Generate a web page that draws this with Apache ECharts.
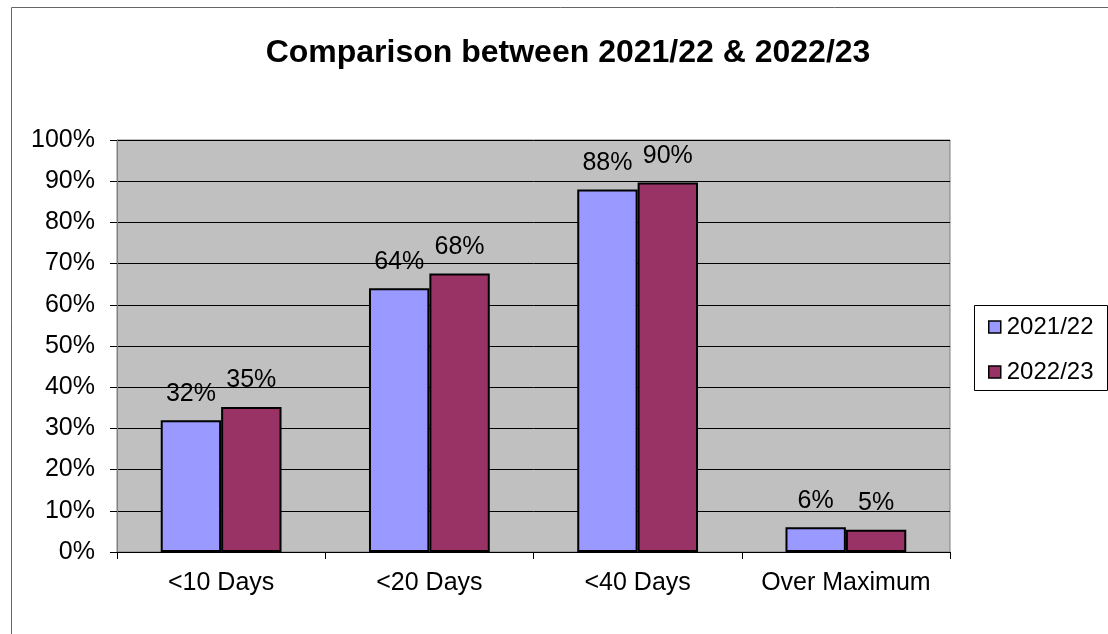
<!DOCTYPE html>
<html>
<head>
<meta charset="utf-8">
<script src="https://cdn.jsdelivr.net/npm/echarts@6/dist/echarts.min.js"></script>
<style>
  html, body { margin: 0; padding: 0; background: #fff; }
  #chart { width: 1108px; height: 634px; }
</style>
</head>
<body>
<div id="chart"></div>
<script>
const categories = ['<10 Days', '<20 Days', '<40 Days', 'Over Maximum']
const seriesNames = ['2021/22', '2022/23']
const values2122 = [32, 64, 88, 6]
const values2223 = [35.2, 67.6, 89.7, 5.4]
const yTicks = [0, 10, 20, 30, 40, 50, 60, 70, 80, 90, 100]

const font = "'Liberation Sans', Arial, sans-serif"
const chart = echarts.init(document.getElementById('chart'))

const barLabel = {
  show: true,
  position: 'top',
  distance: 14,
  fontFamily: font,
  fontSize: 25,
  color: '#000',
  formatter: p => Math.round(p.value) + '%'
}

const option = {
  backgroundColor: '#fff',
  animation: false,
  title: {
    text: 'Comparison between 2021/22 & 2022/23',
    left: 568,
    textAlign: 'center',
    top: 37,
    padding: 0,
    textStyle: { fontFamily: font, fontSize: 32, fontWeight: 'bold', color: '#000' }
  },
  legend: {
    orient: 'vertical',
    left: 988,
    top: 315,
    padding: 0,
    icon: 'rect',
    itemWidth: 12,
    itemHeight: 12,
    itemGap: 21,
    data: seriesNames,
    itemStyle: { borderColor: '#000', borderWidth: 1.5 },
    textStyle: { fontFamily: font, fontSize: 24, lineHeight: 24, color: '#000', padding: [0, 0, 0, 1] }
  },
  graphic: [
    {
      type: 'rect',
      shape: { x: 11.5, y: 7.5, width: 1200, height: 700 },
      style: { fill: 'none', stroke: '#666', lineWidth: 1 },
      silent: true
    },
    {
      type: 'rect',
      shape: { x: 974.5, y: 305.5, width: 133, height: 85 },
      style: { fill: '#fff', stroke: '#000', lineWidth: 1 },
      z: -1,
      silent: true
    }
  ],
  grid: {
    left: 117,
    right: 158,
    top: 140,
    bottom: 82,
    show: true,
    backgroundColor: '#c0c0c0',
    borderColor: '#808080',
    borderWidth: 1
  },
  xAxis: {
    type: 'category',
    data: categories,
    axisLine: { lineStyle: { color: '#000', width: 1 } },
    axisTick: { show: true, alignWithLabel: false, length: 7, lineStyle: { color: '#000' } },
    axisLabel: { fontFamily: font, fontSize: 25, color: '#000', margin: 19, interval: 0 }
  },
  yAxis: {
    type: 'value',
    min: yTicks[0],
    max: yTicks[yTicks.length - 1],
    interval: 10,
    axisLine: { show: true, lineStyle: { color: '#808080' } },
    axisTick: { show: true, length: 7, lineStyle: { color: '#000' } },
    axisLabel: { fontFamily: font, fontSize: 25, color: '#000', margin: 22, formatter: '{value}%' },
    splitLine: { show: true, lineStyle: { color: '#000', width: 1 } }
  },
  series: [
    {
      name: seriesNames[0],
      type: 'bar',
      data: values2122,
      barGap: '0%',
      barCategoryGap: '42%',
      itemStyle: { color: '#9999ff', borderColor: '#000', borderWidth: 2 },
      label: barLabel
    },
    {
      name: seriesNames[1],
      type: 'bar',
      data: values2223,
      itemStyle: { color: '#993366', borderColor: '#000', borderWidth: 2 },
      label: barLabel
    }
  ]
}

chart.setOption(option)
</script>
</body>
</html>
